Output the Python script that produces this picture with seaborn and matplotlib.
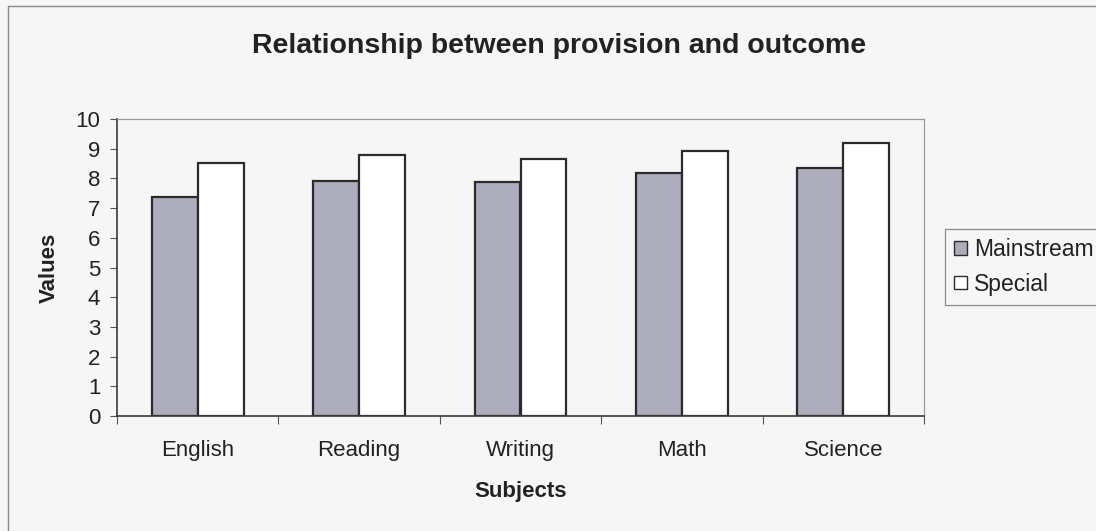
import matplotlib
matplotlib.use("Agg")
import matplotlib.pyplot as plt
from matplotlib.lines import Line2D
from matplotlib.patches import Patch
from matplotlib.ticker import FixedLocator, NullFormatter
import numpy as np
import pandas as pd
import seaborn as sns

# Mean scores per subject for each type of provision
subjects = ["English", "Reading", "Writing", "Math", "Science"]
mainstream = [7.36, 7.92, 7.87, 8.19, 8.36]
special = [8.53, 8.78, 8.66, 8.91, 9.18]
groups = ["Mainstream", "Special"]

df = pd.DataFrame({
    "Subjects": subjects * 2,
    "Values": mainstream + special,
    "Provision": [groups[0]] * len(subjects) + [groups[1]] * len(subjects),
})

sns.set_theme(style="white")
plt.rcParams["font.family"] = ["Liberation Sans", "DejaVu Sans"]

W, H = 1096, 531
bg = "#f6f6f6"
ink = "#222222"
fill_main = "#acacbc"
fill_spec = "#ffffff"
edge = "#2b2b2b"

fig = plt.figure(figsize=(W / 100, H / 100), dpi=100, facecolor=bg)
ax = fig.add_axes([117 / W, 1 - 416 / H, (924 - 117) / W, (416 - 119) / H])
ax.set_facecolor(bg)

sns.barplot(
    data=df, x="Subjects", y="Values", hue="Provision",
    order=subjects, hue_order=groups,
    palette=[fill_main, fill_spec], edgecolor=edge, linewidth=1.6,
    width=0.57, gap=0, saturation=1, legend=False, ax=ax,
)

ax.set_xlim(-0.5, len(subjects) - 0.5)
ax.set_ylim(0, 10)
ax.set_yticks(np.arange(0, 11, 1))

# Category ticks sit between groups; labels stay centred under each group
ax.xaxis.set_major_locator(FixedLocator(np.arange(len(subjects))))
ax.set_xticklabels(subjects)
ax.xaxis.set_minor_locator(FixedLocator(np.arange(len(subjects) + 1) - 0.5))
ax.xaxis.set_minor_formatter(NullFormatter())
ax.tick_params(axis="x", which="major", length=0, pad=17, labelsize=16, labelcolor=ink)
ax.tick_params(axis="x", which="minor", length=6, width=0.8, color="#555555", bottom=True, direction="out")
ax.tick_params(axis="y", which="major", length=5, width=0.8, color="#555555", left=True,
               direction="out", labelsize=16, labelcolor=ink, pad=7)

for side in ["left", "bottom"]:
    ax.spines[side].set_color("#3a3a3a")
    ax.spines[side].set_linewidth(1.2)
for side in ["top", "right"]:
    ax.spines[side].set_color("#9a9a9a")
    ax.spines[side].set_linewidth(0.9)
ax.spines["top"].set_linestyle((0, (2, 1)))

ax.set_xlabel("Subjects", fontsize=16, fontweight="bold", color=ink, va="center")
ax.xaxis.set_label_coords(0.5, (416 - 491) / (416 - 119))
ax.set_ylabel("Values", fontsize=16, fontweight="bold", color=ink, va="center")
ax.yaxis.set_label_coords((49 - 117) / (924 - 117), 0.5)
fig.text(559 / W, 1 - 46 / H, "Relationship between provision and outcome",
         ha="center", va="center", fontsize=20.5, fontweight="bold", color=ink)

handles = [
    Patch(facecolor=fill_main, edgecolor=edge, linewidth=1.0, label=groups[0]),
    Patch(facecolor=fill_spec, edgecolor=edge, linewidth=1.0, label=groups[1]),
]
leg = fig.legend(
    handles=handles, loc="upper left", bbox_to_anchor=(945 / W, 1 - 229 / H),
    frameon=True, fancybox=False, framealpha=1, edgecolor="#8a8a8a",
    fontsize=16.5, handlelength=0.55, handleheight=0.55, handletextpad=0.3,
    borderpad=0.4, labelspacing=0.5, borderaxespad=0,
)
leg.get_frame().set_facecolor(bg)
leg.get_frame().set_linewidth(0.9)
for t in leg.get_texts():
    t.set_color(ink)

# Outer chart-area frame (left and top edges)
fig.add_artist(Line2D([8 / W, 8 / W], [0, 1 - 6 / H], transform=fig.transFigure,
                      color="#8a8a8a", linewidth=1.0))
fig.add_artist(Line2D([8 / W, 1], [1 - 6 / H, 1 - 6 / H], transform=fig.transFigure,
                      color="#8a8a8a", linewidth=1.0))

fig.savefig("out.png", dpi=100, facecolor=bg)
